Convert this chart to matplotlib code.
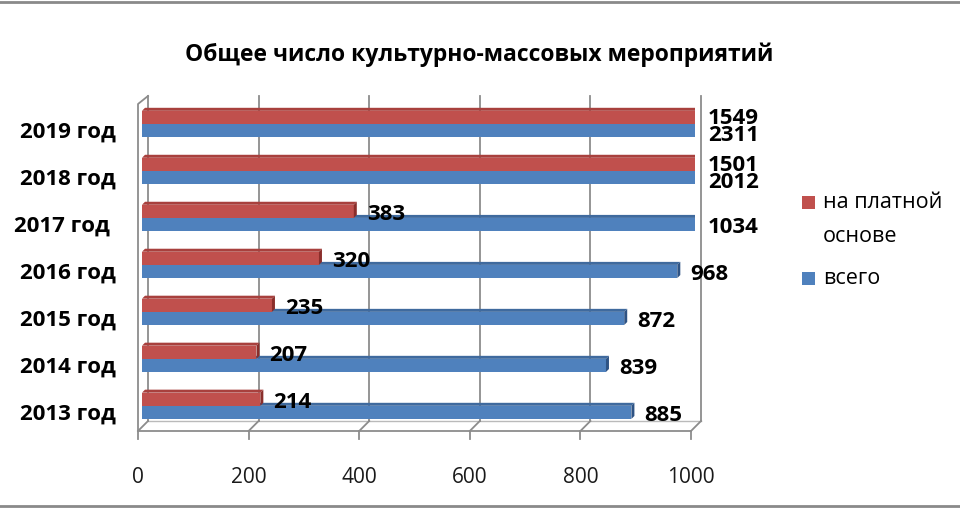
import matplotlib
matplotlib.use("Agg")
import matplotlib.pyplot as plt
from matplotlib.patches import Polygon, Rectangle
from matplotlib.lines import Line2D
from matplotlib.transforms import ScaledTranslation
import numpy as np

plt.rcParams['font.family'] = ['Open Sans', 'DejaVu Sans']

# ---- data ----
years = ["2013 год", "2014 год", "2015 год", "2016 год", "2017 год ", "2018 год", "2019 год"]
paid = [214, 207, 235, 320, 383, 1501, 1549]
total = [885, 839, 872, 968, 1034, 2012, 2311]
series_names = ["на платной\nоснове", "всего"]
x_ticks = [0, 200, 400, 600, 800, 1000]
title = "Общее число культурно-массовых мероприятий"

RED = "#C0504D"
BLUE = "#4F81BD"
RED_TOP = "#A8403D"
RED_END = "#8A2E2B"
BLUE_TOP = "#3F6A9E"
BLUE_END = "#2E5384"
GRID = "#8C8C8C"

W, H, DPI = 960, 510, 100
fig = plt.figure(figsize=(W / DPI, H / DPI), dpi=DPI)

ax_l, ax_r, ax_b, ax_t = 142, 695, 427, 101
ax = fig.add_axes([ax_l / W, (H - ax_b) / H, (ax_r - ax_l) / W, (ax_b - ax_t) / H])
xmin, xmax = 0, 1000
ymin, ymax = -0.43, 6.51
ax.set_xlim(xmin, xmax)
ax.set_ylim(ymin, ymax)
ax.set_frame_on(False)

# pixel -> data conversions
pxx = (xmax - xmin) / (ax_r - ax_l)
pxy = (ymax - ymin) / (ax_b - ax_t)

def off(x, y, dxp, dyp):
    return x + dxp * pxx, y - dyp * pxy

FRONT = (-4, 5)
BACK = (6, -5)

# back gridlines / walls
for t in x_ticks:
    bx0, by0 = off(t, ymin, *BACK)
    ax.add_line(Line2D([bx0, bx0], [by0, ymax + 4 * pxy], color=GRID, lw=1.3, zorder=1, clip_on=False))
    fx, fy = off(t, ymin, *FRONT)
    ax.add_line(Line2D([fx, bx0], [fy, by0], color=GRID, lw=1.3, zorder=1, clip_on=False))
    ax.add_line(Line2D([fx, fx], [fy, fy - 8 * pxy], color=GRID, lw=1.3, zorder=1, clip_on=False))

f0 = off(xmin, ymin, *FRONT)
f1 = off(xmax, ymin, *FRONT)
ax.add_line(Line2D([f0[0], f1[0]], [f0[1], f1[1]], color=GRID, lw=1.3, zorder=1, clip_on=False))
b0 = off(xmin, ymin, *BACK)
b1 = off(xmax, ymin, *BACK)
ax.add_line(Line2D([b0[0], b1[0]], [b0[1], b1[1]], color=GRID, lw=1.0, zorder=1, clip_on=False, alpha=0.6))
ax.add_line(Line2D([f0[0], f0[0], off(xmin, ymax, *BACK)[0]],
                   [f0[1], ymax - 4 * pxy, ymax + 4 * pxy],
                   color=GRID, lw=1.3, zorder=1, clip_on=False))

# bars
cats = np.arange(len(years))
h = 0.28
dpx = 3

def draw_bar(yc0, val, color, top, end, z):
    v = min(val, xmax)
    ax.add_patch(Rectangle((0, yc0), v, h, facecolor=color, edgecolor='none', zorder=z))
    dx, dy = dpx * pxx, dpx * pxy
    ax.add_patch(Polygon([(0, yc0 + h), (v, yc0 + h), (v + dx, yc0 + h + dy), (dx, yc0 + h + dy)],
                         closed=True, facecolor=top, edgecolor='none', zorder=z))
    ax.add_patch(Polygon([(v, yc0), (v, yc0 + h), (v + dx, yc0 + h + dy), (v + dx, yc0 + dy)],
                         closed=True, facecolor=end, edgecolor='none', zorder=z))

for c, pv, tv in zip(cats, paid, total):
    draw_bar(c - h, tv, BLUE, BLUE_TOP, BLUE_END, 3)
    draw_bar(c, pv, RED, RED_TOP, RED_END, 4)

# value labels
for c, pv, tv in zip(cats, paid, total):
    clipped = pv > xmax
    ax.text(min(pv, xmax) + 13 * pxx, c + (0.14 if clipped else 0.1), f"{pv}", fontsize=16,
            fontweight='bold', ha='left', va='center', color='black', zorder=6, clip_on=False)
    ax.text(min(tv, xmax) + 13 * pxx, c - (0.22 if clipped else 0.19), f"{tv}", fontsize=16,
            fontweight='bold', ha='left', va='center', color='black', zorder=6, clip_on=False)

# y tick labels
ax.set_yticks(cats)
ax.set_yticklabels(years, fontsize=16, fontweight='bold')
ax.tick_params(axis='y', length=0, pad=19)
for lab in ax.get_yticklabels():
    lab.set_transform(lab.get_transform() + ScaledTranslation(0, -5 / DPI, fig.dpi_scale_trans))

# x tick labels
ax.set_xticks(x_ticks)
ax.set_xticklabels([str(t) for t in x_ticks], fontsize=15, color='#1a1a1a')
ax.tick_params(axis='x', length=0, pad=29)
for lab in ax.get_xticklabels():
    lab.set_transform(lab.get_transform() + ScaledTranslation(-4 / DPI, 0, fig.dpi_scale_trans))

# title
fig.text(479 / W, 1 - 55 / H, title, fontsize=16.5, fontweight='bold', ha='center', va='center')

# legend (manual)
fig.add_artist(Rectangle((802 / W, 1 - 210 / H), 13 / W, 13 / H, facecolor=RED, edgecolor='none',
                         transform=fig.transFigure))
fig.add_artist(Rectangle((802 / W, 1 - 286 / H), 13 / W, 13 / H, facecolor=BLUE, edgecolor='none',
                         transform=fig.transFigure))
fig.text(823 / W, 1 - 203 / H, series_names[0].split("\n")[0], fontsize=15.5, ha='left', va='center')
fig.text(823 / W, 1 - 236 / H, series_names[0].split("\n")[1], fontsize=15.5, ha='left', va='center')
fig.text(823 / W, 1 - 279 / H, series_names[1], fontsize=15.5, ha='left', va='center')

# outer frame lines
fig.add_artist(Line2D([0, 1], [1 - 3 / H, 1 - 3 / H], color='#8a8a8a', lw=2, transform=fig.transFigure))
fig.add_artist(Line2D([0, 1], [1 - 507 / H, 1 - 507 / H], color='#8a8a8a', lw=2, transform=fig.transFigure))

fig.savefig("out.png", dpi=DPI)
